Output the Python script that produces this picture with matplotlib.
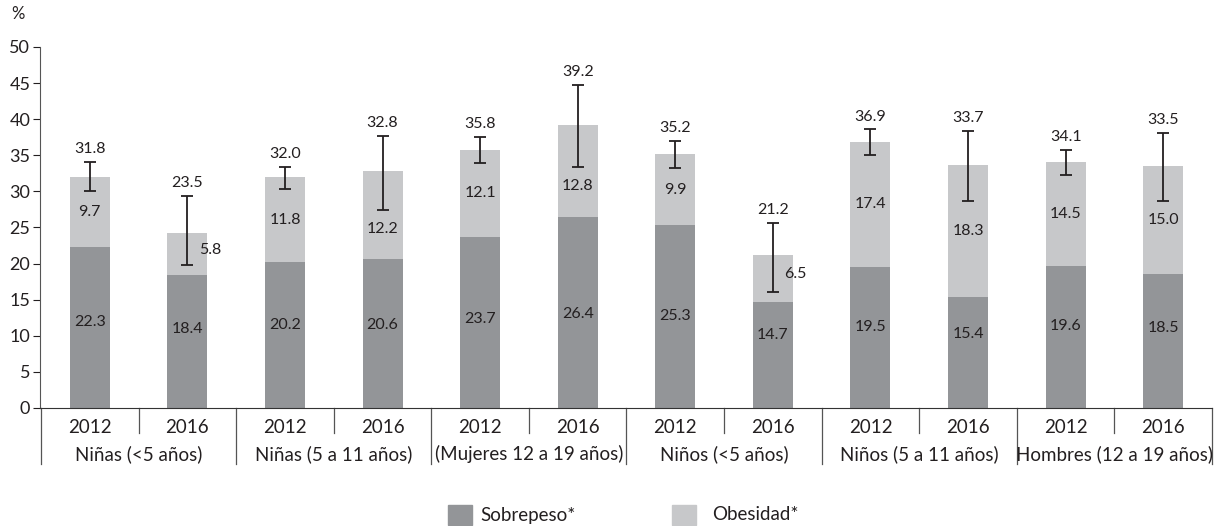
import numpy as np
import matplotlib
matplotlib.use("Agg")
import matplotlib.pyplot as plt
from matplotlib.patches import Rectangle

plt.rcParams['font.family'] = ['Lato', 'DejaVu Sans']

# datos
grupos = ["Niñas (<5 años)", "Niñas (5 a 11 años)", "(Mujeres 12 a 19 años)",
          "Niños (<5 años)", "Niños (5 a 11 años)", "Hombres (12 a 19 años)"]
anios = ["2012", "2016"]
sobrepeso = [22.3, 18.4, 20.2, 20.6, 23.7, 26.4, 25.3, 14.7, 19.5, 15.4, 19.6, 18.5]
obesidad = [9.7, 5.8, 11.8, 12.2, 12.1, 12.8, 9.9, 6.5, 17.4, 18.3, 14.5, 15.0]
totales = [31.8, 23.5, 32.0, 32.8, 35.8, 39.2, 35.2, 21.2, 36.9, 33.7, 34.1, 33.5]
ic_inf = [30.1, 19.8, 30.4, 27.4, 33.9, 33.4, 33.2, 16.1, 35.0, 28.7, 32.3, 28.7]
ic_sup = [34.1, 29.4, 33.4, 37.7, 37.5, 44.8, 37.0, 25.6, 38.6, 38.4, 35.7, 38.1]

c_sob = '#939598'
c_obe = '#c7c8ca'
c_txt = '#231f20'

fig = plt.figure(figsize=(12.14, 5.26), dpi=100)
ax = fig.add_axes([40/1214, 1-408/526, 1172/1214, 361/526])

x = np.arange(len(sobrepeso))
sob = np.array(sobrepeso)
obe = np.array(obesidad)
top = sob + obe

ax.bar(x, sob, width=0.41, color=c_sob, zorder=2)
ax.bar(x, obe, width=0.41, bottom=sob, color=c_obe, zorder=2)

lo = top - np.array(ic_inf)
hi = np.array(ic_sup) - top
ax.errorbar(x, top, yerr=[lo, hi], fmt='none', ecolor=c_txt, elinewidth=1.3,
            capsize=4.5, capthick=1.3, zorder=3)

fs_val = 11.5
for i in range(len(x)):
    ax.text(x[i], ic_sup[i] + 0.8, f"{totales[i]:.1f}", ha='center', va='bottom',
            fontsize=fs_val, color=c_txt)
    # etiqueta sobrepeso
    ax.text(x[i], 0.25 * sob[i] + 6.4, f"{sobrepeso[i]:.1f}", ha='center', va='center',
            fontsize=fs_val, color=c_txt)
    # etiqueta obesidad
    mid = sob[i] + obe[i] / 2
    if obe[i] < 8:
        ax.text(x[i] + 0.12, mid + 0.6, f"{obesidad[i]:.1f}", ha='left', va='center',
                fontsize=fs_val, color=c_txt)
    else:
        ax.text(x[i], min(mid, ic_inf[i] - 2.6), f"{obesidad[i]:.1f}", ha='center',
                va='center', fontsize=fs_val, color=c_txt)

ax.set_xlim(-0.51, 11.5)
ax.set_ylim(0, 50)
ax.set_yticks(range(0, 51, 5))
ax.tick_params(axis='y', labelsize=13, length=5, width=0.8, colors=c_txt, pad=2)
ax.set_xticks([])
for s in ['top', 'right']:
    ax.spines[s].set_visible(False)
ax.spines['left'].set_color('#555555')
ax.spines['bottom'].set_color('#333333')

# separadores y etiquetas del eje x
tr = ax.get_xaxis_transform()
for i in range(len(x)):
    ax.text(x[i], -0.053, anios[i % 2], transform=tr, ha='center', va='center',
            fontsize=13.5, color=c_txt)
for g in range(len(grupos)):
    xs = 2 * g + 0.5
    ax.plot([xs, xs], [0, -0.069], transform=tr, color='#555555', lw=0.9, clip_on=False)
    xg = 2 * g - 0.5
    ax.plot([xg, xg], [0, -0.155], transform=tr, color='#555555', lw=0.9, clip_on=False)
    ax.text(2 * g + 0.5, -0.128, grupos[g], transform=tr, ha='center', va='center',
            fontsize=13.5, color=c_txt)
ax.plot([11.5, 11.5], [0, -0.155], transform=tr, color='#555555', lw=0.9, clip_on=False)

fig.text(18/1214, 1-14/526, '%', ha='center', va='center', fontsize=12, color=c_txt)

# leyenda
fig.patches.append(Rectangle((448/1214, 1-525/526), 24/1214, 20/526,
                             transform=fig.transFigure, color=c_sob))
fig.text(480/1214, 1-515/526, 'Sobrepeso*', ha='left', va='center', fontsize=13.5, color=c_txt)
fig.patches.append(Rectangle((672/1214, 1-525/526), 24/1214, 20/526,
                             transform=fig.transFigure, color=c_obe))
fig.text(712/1214, 1-515/526, 'Obesidad*', ha='left', va='center', fontsize=13.5, color=c_txt)

fig.savefig('out.png', dpi=100)
